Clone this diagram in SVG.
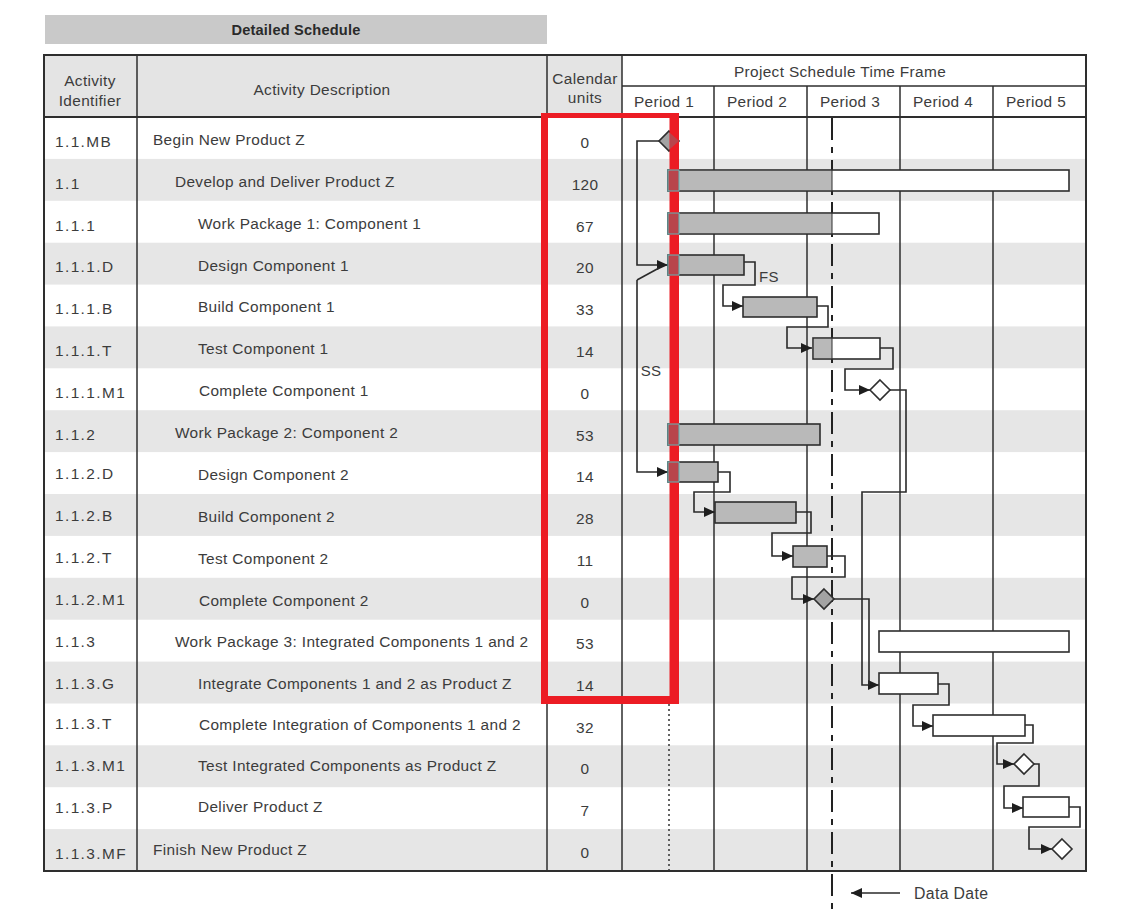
<svg xmlns="http://www.w3.org/2000/svg" width="1136" height="910" viewBox="0 0 1136 910">
<style>
text{font-family:"Liberation Sans",Arial,sans-serif;fill:#3c3c3c;font-size:15.4px;letter-spacing:0.35px}
.id{letter-spacing:1.4px;dominant-baseline:central}
.ds{dominant-baseline:central}
.un{text-anchor:middle;dominant-baseline:central}
.hd{text-anchor:middle;dominant-baseline:central}
.shade{fill:#e6e6e6}
.grid{stroke:#2e2e2e;stroke-width:1.5;fill:none}
.bar{fill:#b9b9b9;stroke:#2e2e2e;stroke-width:1.6}
.barw{fill:#ffffff;stroke:#2e2e2e;stroke-width:1.6}
.gray{fill:#b9b9b9}
.msg{fill:#a3a3a3;stroke:#2e2e2e;stroke-width:1.6}
.msw{fill:#ffffff;stroke:#2e2e2e;stroke-width:1.6}
.con{fill:none;stroke:#2a2a2a;stroke-width:1.6}
.arr{marker-end:url(#ah)}
.end{fill:#b8454c;stroke:#5fb7b7;stroke-width:1}
</style>
<defs>
<marker id="ah" markerUnits="userSpaceOnUse" markerWidth="12" markerHeight="10" refX="11" refY="5" orient="auto">
<path d="M0,0 L11,5 L0,10 z" fill="#1e1e1e"/>
</marker>
</defs>

<g id="title">
<rect x="45" y="15" width="502" height="29" fill="#c9c9c9"/>
<text x="296" y="29.5" class="hd" style="font-weight:bold;font-size:14.6px;fill:#2a2a2a;letter-spacing:0.2px">Detailed Schedule</text>
</g>

<g id="table">
<rect x="44" y="55" width="578" height="62" fill="#e4e4e4"/>
<rect x="622" y="55" width="464" height="62" fill="#ffffff"/>
<rect x="44" y="117" width="1042" height="754" fill="#ffffff"/>
<g id="shading">
<rect class="shade" x="44" y="158.9" width="1042" height="41.9"/>
<rect class="shade" x="44" y="242.7" width="1042" height="41.9"/>
<rect class="shade" x="44" y="326.4" width="1042" height="41.9"/>
<rect class="shade" x="44" y="410.2" width="1042" height="41.9"/>
<rect class="shade" x="44" y="494.0" width="1042" height="41.9"/>
<rect class="shade" x="44" y="577.8" width="1042" height="41.9"/>
<rect class="shade" x="44" y="661.6" width="1042" height="41.9"/>
<rect class="shade" x="44" y="745.3" width="1042" height="41.9"/>
<rect class="shade" x="44" y="829.1" width="1042" height="41.9"/>
</g>
<g id="gridlines">
<line class="grid" x1="137" y1="55" x2="137" y2="871"/>
<line class="grid" x1="547" y1="55" x2="547" y2="871"/>
<line class="grid" x1="622" y1="55" x2="622" y2="871"/>
<line class="grid" x1="714" y1="86" x2="714" y2="871"/>
<line class="grid" x1="807" y1="86" x2="807" y2="871"/>
<line class="grid" x1="900" y1="86" x2="900" y2="871"/>
<line class="grid" x1="993" y1="86" x2="993" y2="871"/>
<line class="grid" x1="622" y1="86" x2="1086" y2="86"/>
<line class="grid" x1="44" y1="117" x2="1086" y2="117" style="stroke-width:2"/>
<rect class="grid" x="44" y="55" width="1042" height="816" style="stroke-width:2"/>
</g>
<g id="headers">
<text x="90" y="80" class="hd">Activity</text>
<text x="90" y="100" class="hd">Identifier</text>
<text x="322" y="89.5" class="hd">Activity Description</text>
<text x="585" y="78" class="hd">Calendar</text>
<text x="585" y="97.5" class="hd">units</text>
<text x="840" y="71" class="hd">Project Schedule Time Frame</text>
<text x="664" y="101.5" class="hd">Period 1</text>
<text x="757" y="101.5" class="hd">Period 2</text>
<text x="850" y="101.5" class="hd">Period 3</text>
<text x="943" y="101.5" class="hd">Period 4</text>
<text x="1036" y="101.5" class="hd">Period 5</text>
</g>
</g>

<g id="datadate">
<line x1="832" y1="118" x2="832" y2="910" stroke="#222" stroke-width="2" stroke-dasharray="22 7 6 7"/>
<line class="con arr" x1="900" y1="893" x2="851" y2="893"/>
<text x="914" y="893.5" class="ds" style="font-size:15.8px">Data Date</text>
</g>

<g id="rows">
<g id="row-1.1.MB"><text class="id" x="55" y="141">1.1.MB</text><text class="ds" x="153" y="139">Begin New Product Z</text><text class="un" x="585" y="142">0</text></g>
<g id="row-1.1"><text class="id" x="55" y="183">1.1</text><text class="ds" x="175" y="181">Develop and Deliver Product Z</text><text class="un" x="585" y="184">120</text></g>
<g id="row-1.1.1"><text class="id" x="55" y="225">1.1.1</text><text class="ds" x="198" y="223">Work Package 1: Component 1</text><text class="un" x="585" y="226">67</text></g>
<g id="row-1.1.1.D"><text class="id" x="55" y="266.5">1.1.1.D</text><text class="ds" x="198" y="265">Design Component 1</text><text class="un" x="585" y="267.5">20</text></g>
<g id="row-1.1.1.B"><text class="id" x="55" y="308.5">1.1.1.B</text><text class="ds" x="198" y="306.5">Build Component 1</text><text class="un" x="585" y="309.5">33</text></g>
<g id="row-1.1.1.T"><text class="id" x="55" y="350.5">1.1.1.T</text><text class="ds" x="198" y="348.5">Test Component 1</text><text class="un" x="585" y="351.5">14</text></g>
<g id="row-1.1.1.M1"><text class="id" x="55" y="392">1.1.1.M1</text><text class="ds" x="199" y="390.5">Complete Component 1</text><text class="un" x="585" y="393">0</text></g>
<g id="row-1.1.2"><text class="id" x="55" y="434">1.1.2</text><text class="ds" x="175" y="432">Work Package 2: Component 2</text><text class="un" x="585" y="435">53</text></g>
<g id="row-1.1.2.D"><text class="id" x="55" y="473">1.1.2.D</text><text class="ds" x="198" y="474">Design Component 2</text><text class="un" x="585" y="476">14</text></g>
<g id="row-1.1.2.B"><text class="id" x="55" y="515">1.1.2.B</text><text class="ds" x="198" y="516">Build Component 2</text><text class="un" x="585" y="518">28</text></g>
<g id="row-1.1.2.T"><text class="id" x="55" y="557">1.1.2.T</text><text class="ds" x="198" y="558">Test Component 2</text><text class="un" x="585" y="560">11</text></g>
<g id="row-1.1.2.M1"><text class="id" x="55" y="599">1.1.2.M1</text><text class="ds" x="199" y="600">Complete Component 2</text><text class="un" x="585" y="602">0</text></g>
<g id="row-1.1.3"><text class="id" x="55" y="641">1.1.3</text><text class="ds" x="175" y="641">Work Package 3: Integrated Components 1 and 2</text><text class="un" x="585" y="643.5">53</text></g>
<g id="row-1.1.3.G"><text class="id" x="55" y="683">1.1.3.G</text><text class="ds" x="198" y="683">Integrate Components 1 and 2 as Product Z</text><text class="un" x="585" y="685.5">14</text></g>
<g id="row-1.1.3.T"><text class="id" x="55" y="723">1.1.3.T</text><text class="ds" x="199" y="724">Complete Integration of Components 1 and 2</text><text class="un" x="585" y="727">32</text></g>
<g id="row-1.1.3.M1"><text class="id" x="55" y="765">1.1.3.M1</text><text class="ds" x="198" y="765">Test Integrated Components as Product Z</text><text class="un" x="585" y="768.5">0</text></g>
<g id="row-1.1.3.P"><text class="id" x="55" y="807">1.1.3.P</text><text class="ds" x="198" y="806">Deliver Product Z</text><text class="un" x="585" y="810">7</text></g>
<g id="row-1.1.3.MF"><text class="id" x="55" y="853">1.1.3.MF</text><text class="ds" x="153" y="849">Finish New Product Z</text><text class="un" x="585" y="852">0</text></g>
</g>

<g id="connectors">
<path class="con arr" d="M659,141 H637 V265 H668"/>
<path class="con" d="M637,280 L659,268"/>
<path class="con arr" d="M637,280 V472 H668"/>
<path class="con arr" d="M744,262 H755 V285 H723 V306 H743"/>
<path class="con arr" d="M817,306 H828 V327 H787 V348 H812"/>
<path class="con arr" d="M880,348 H893 V369 H845 V390 H870"/>
<path class="con arr" d="M890,390 H906 V492 H862 V685 H879"/>
<path class="con arr" d="M718,472 H730 V492 H694 V512 H715"/>
<path class="con arr" d="M796,512 H811 V533 H772 V556 H793"/>
<path class="con arr" d="M827,556 H845 V577 H792 V599 H814"/>
<path class="con" d="M834,599 H869 V685"/>
<path class="con arr" d="M938,684 H949 V705 H913 V726 H933"/>
<path class="con arr" d="M1025,725 H1033 V743 H997 V764 H1014"/>
<path class="con arr" d="M1034,764 H1039 V786 H1004 V808 H1023"/>
<path class="con arr" d="M1069,807 H1080 V827 H1029 V849 H1052"/>
<text x="651" y="370" class="hd" style="font-size:15px">SS</text>
<text x="769" y="276" class="hd" style="font-size:15px">FS</text>
</g>

<g id="bars">
<g id="bar-1.1"><rect class="barw" x="668" y="170" width="401" height="21"/><rect class="gray" x="669" y="171" width="163" height="19"/><line x1="832" y1="170" x2="832" y2="191" stroke="#2e2e2e" stroke-width="1"/></g>
<g id="bar-1.1.1"><rect class="barw" x="668" y="213" width="211" height="21"/><rect class="gray" x="669" y="214" width="163" height="19"/><line x1="832" y1="213" x2="832" y2="234" stroke="#2e2e2e" stroke-width="1"/></g>
<g id="bar-1.1.1.D"><rect class="bar" x="668" y="255" width="76" height="20"/></g>
<g id="bar-1.1.1.B"><rect class="bar" x="743" y="297" width="74" height="20"/></g>
<g id="bar-1.1.1.T"><rect class="barw" x="813" y="338" width="67" height="21"/><rect class="gray" x="814" y="339" width="18" height="19"/><line x1="832" y1="338" x2="832" y2="359" stroke="#2e2e2e" stroke-width="1"/></g>
<g id="bar-1.1.2"><rect class="bar" x="668" y="424" width="152" height="21"/></g>
<g id="bar-1.1.2.D"><rect class="bar" x="668" y="462" width="50" height="20"/></g>
<g id="bar-1.1.2.B"><rect class="bar" x="715" y="502" width="81" height="21"/></g>
<g id="bar-1.1.2.T"><rect class="bar" x="793" y="546" width="34" height="21"/></g>
<g id="bar-1.1.3"><rect class="barw" x="879" y="631" width="190" height="21"/></g>
<g id="bar-1.1.3.G"><rect class="barw" x="879" y="673" width="59" height="21"/></g>
<g id="bar-1.1.3.T"><rect class="barw" x="933" y="715" width="92" height="21"/></g>
<g id="bar-1.1.3.P"><rect class="barw" x="1023" y="797" width="46" height="20"/></g>
<g id="ms-1.1.MB"><path class="msg" d="M669,131 L679,141 L669,151 L659,141 z"/></g>
<g id="ms-1.1.1.M1"><path class="msw" d="M880,380 L890,390 L880,400 L870,390 z"/></g>
<g id="ms-1.1.2.M1"><path class="msg" d="M824,589 L834,599 L824,609 L814,599 z"/></g>
<g id="ms-1.1.3.M1"><path class="msw" d="M1024,754 L1034,764 L1024,774 L1014,764 z"/></g>
<g id="ms-1.1.3.MF"><path class="msw" d="M1062,839 L1072,849 L1062,859 L1052,849 z"/></g>
</g>

<g id="highlight">
<path fill="#ec1c24" fill-rule="evenodd" d="M541,113 H679 V704 H541 Z M548,118 V696 H669.5 V118 Z"/>
<rect class="end" x="668" y="170" width="11" height="21"/>
<rect class="end" x="668" y="213" width="11" height="21"/>
<rect class="end" x="668" y="255" width="11" height="20"/>
<rect class="end" x="668" y="424" width="11" height="21"/>
<rect class="end" x="668" y="462" width="11" height="20"/>
<path d="M670,133 L679,141 L670,149 z" fill="#b8454c"/>
<line x1="669" y1="704" x2="669" y2="871" stroke="#333" stroke-width="1.5" stroke-dasharray="2 3"/>
</g>
</svg>
